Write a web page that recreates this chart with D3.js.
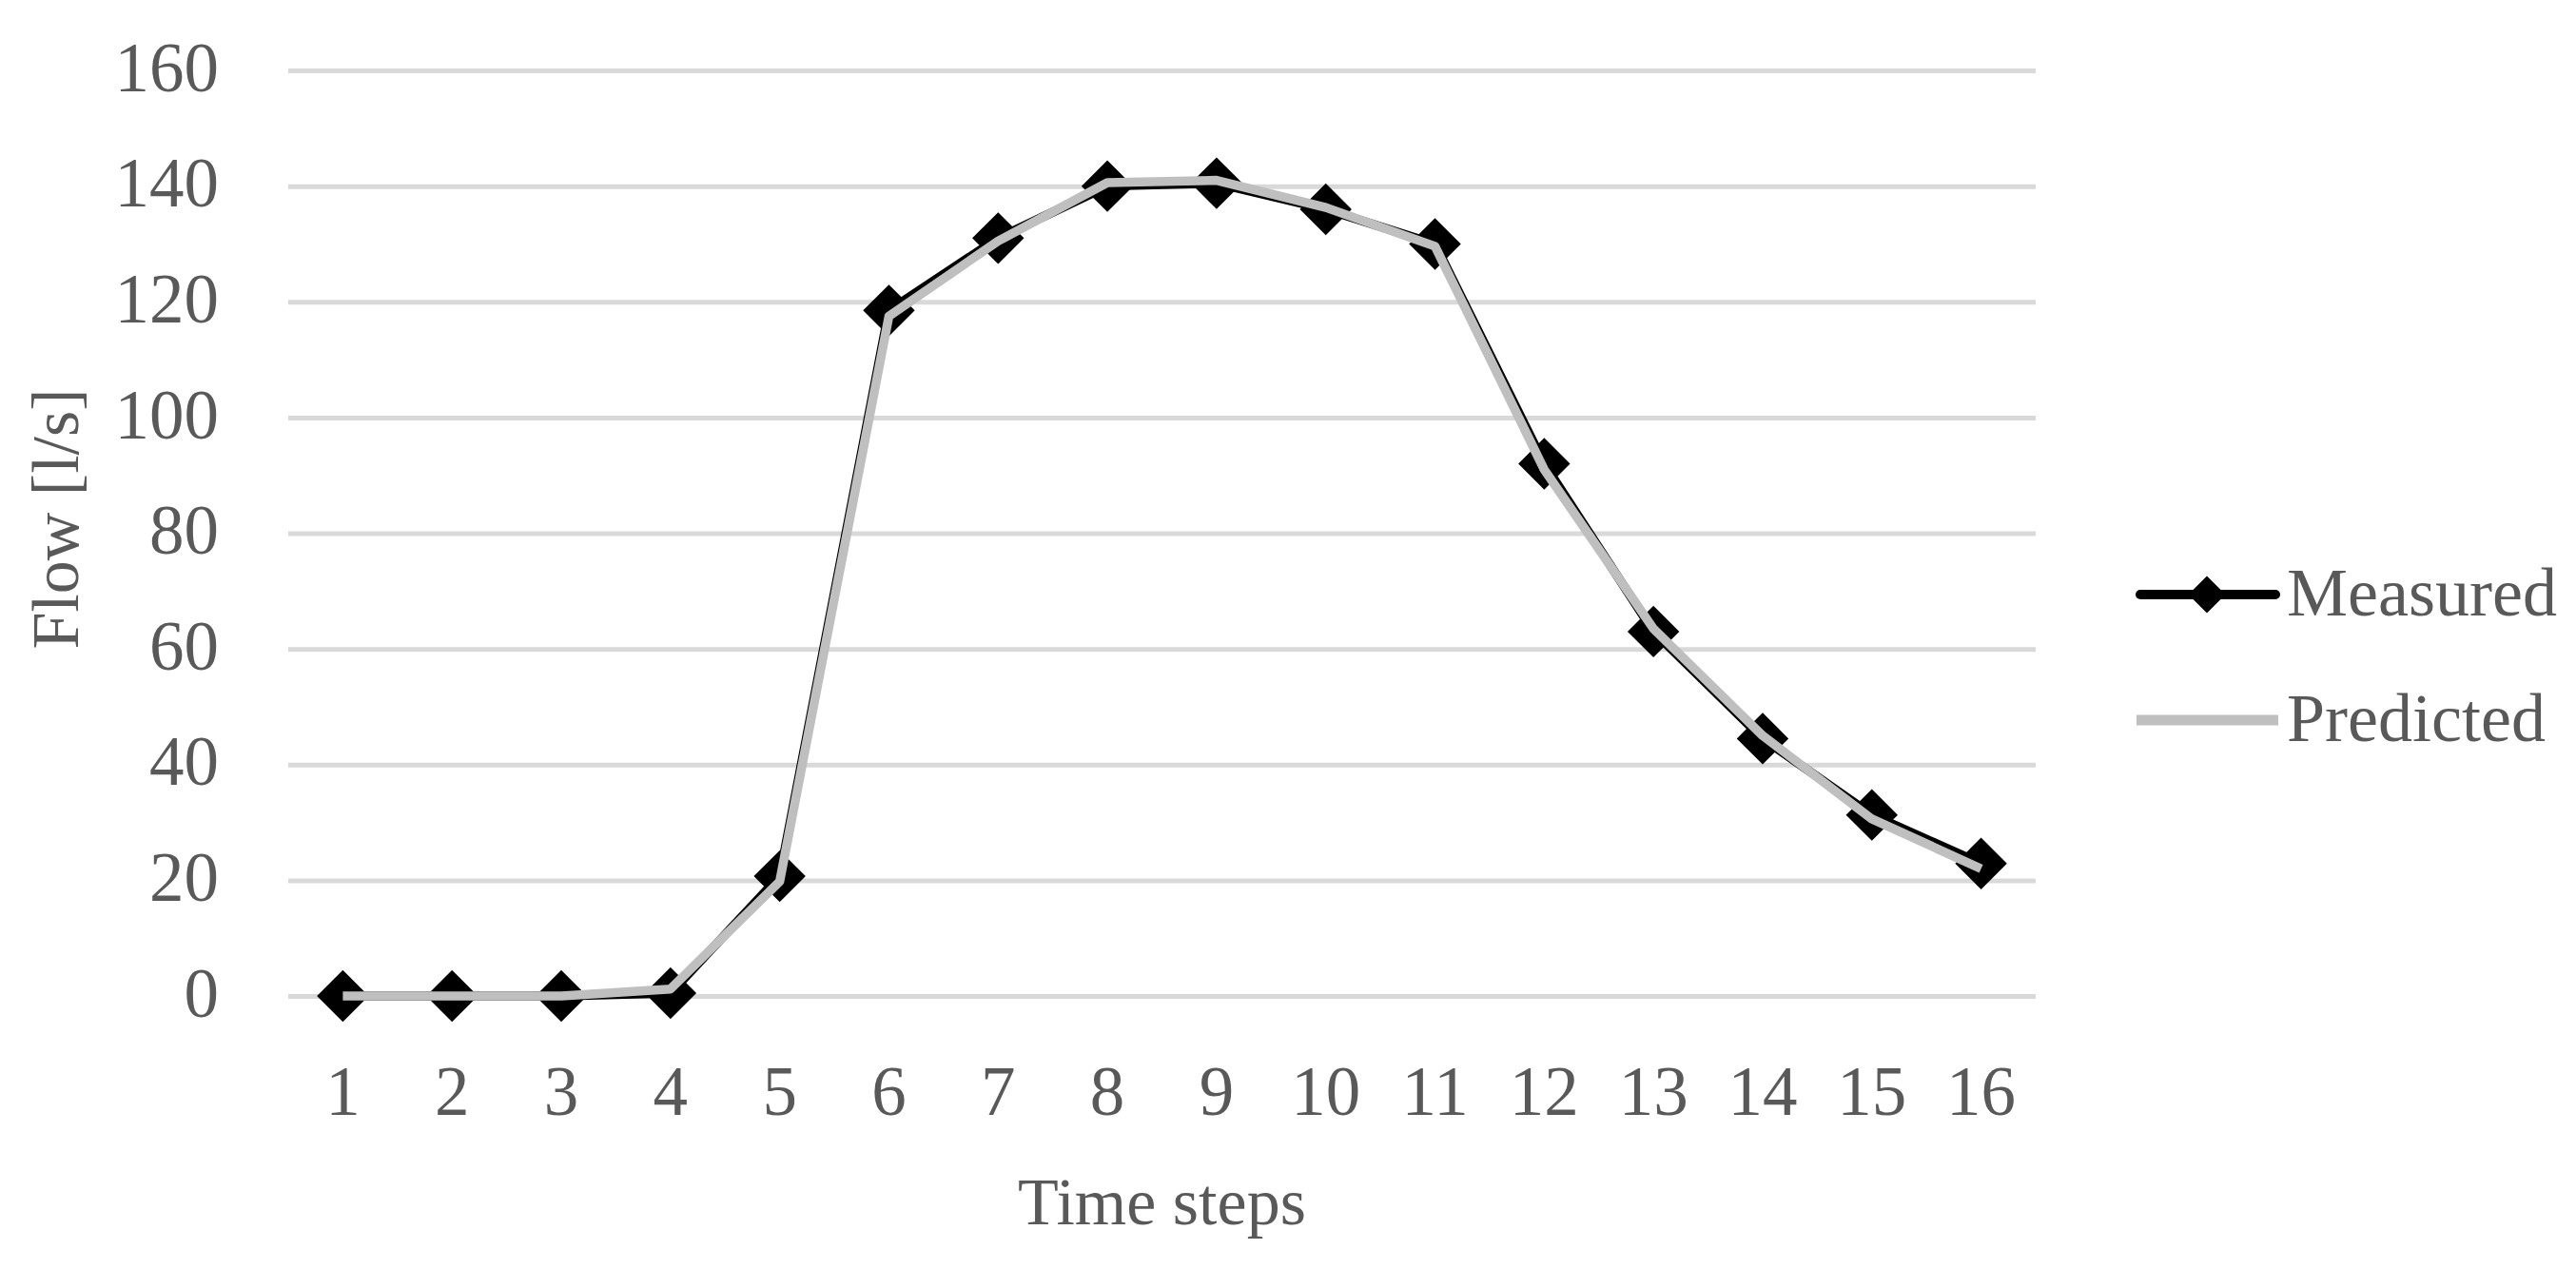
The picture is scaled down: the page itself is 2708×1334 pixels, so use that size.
<!DOCTYPE html>
<html>
<head>
<meta charset="utf-8">
<script src="https://cdn.jsdelivr.net/npm/d3@7"></script>
<style>
  html, body { margin: 0; padding: 0; background: #ffffff; }
  svg { display: block; }
</style>
</head>
<body>
<script>
const categories = ["1","2","3","4","5","6","7","8","9","10","11","12","13","14","15","16"];
const measured  = [0, 0, 0, 0.5, 20.7, 118.5, 131, 140, 140.5, 136, 130, 92, 63, 44.5, 31.3, 22.9];
const predicted = [0, 0, 0, 1.2, 19.8, 117.5, 130.5, 140.6, 141, 136.3, 129.6, 91, 63.5, 45, 30.6, 22];
const yTicks = [0, 20, 40, 60, 80, 100, 120, 140, 160];
const seriesNames = ["Measured", "Predicted"];
const xTitle = "Time steps";
const yTitle = "Flow [l/s]";

(function () {
const W = 2708, H = 1334;
const pLeft = 303, pRight = 2140, pTop = 74, pBottom = 1047;
const textColor = "#595959";
const font = "'Liberation Serif', 'Times New Roman', serif";

const svg = d3.select("body").append("svg")
  .attr("width", W).attr("height", H)
  .attr("viewBox", `0 0 ${W} ${H}`);

svg.append("rect").attr("width", W).attr("height", H).attr("fill", "#fff");

const x = d3.scaleBand().domain(categories).range([pLeft, pRight]).padding(0);
const y = d3.scaleLinear().domain([0, 160]).range([pBottom, pTop]);
const cx = d => x(d) + x.bandwidth() / 2;

// Y axis with gridlines
const yAxis = svg.append("g")
  .attr("transform", `translate(${pLeft},0)`)
  .call(d3.axisLeft(y).tickValues(yTicks).tickSize(-(pRight - pLeft)).tickPadding(73).tickFormat(d3.format("d")));
yAxis.select(".domain").remove();
yAxis.selectAll(".tick line")
  .attr("stroke", "#d9d9d9").attr("stroke-width", 5);
yAxis.selectAll(".tick text")
  .attr("fill", textColor)
  .attr("font-family", font)
  .attr("font-size", 73)
  .attr("dy", "0.29em");

// X axis labels
const xAxis = svg.append("g")
  .attr("transform", `translate(0,${pBottom})`)
  .call(d3.axisBottom(x).tickSize(0).tickPadding(0));
xAxis.select(".domain").remove();
xAxis.selectAll(".tick text")
  .attr("fill", textColor)
  .attr("font-family", font)
  .attr("font-size", 73)
  .attr("y", 125)
  .attr("dy", 0);

// Measured line + markers
const line = d3.line().x((d, i) => cx(categories[i])).y(d => y(d));

svg.append("path")
  .datum(measured)
  .attr("d", line)
  .attr("fill", "none")
  .attr("stroke", "#000")
  .attr("stroke-width", 9.5)
  .attr("stroke-linejoin", "round")
  .attr("stroke-linecap", "round");

const diamond = d3.symbol().type(d3.symbolSquare).size(1480);
svg.append("g").selectAll("path")
  .data(measured)
  .join("path")
  .attr("d", diamond)
  .attr("transform", (d, i) => `translate(${cx(categories[i])},${y(d)}) rotate(45)`)
  .attr("fill", "#000");

// Predicted line
svg.append("path")
  .datum(predicted)
  .attr("d", line)
  .attr("fill", "none")
  .attr("stroke", "#bfbfbf")
  .attr("stroke-width", 9.5)
  .attr("stroke-linejoin", "round")
  .attr("stroke-linecap", "butt");

// Axis titles
svg.append("text")
  .attr("x", (pLeft + pRight) / 2)
  .attr("y", 1287)
  .attr("text-anchor", "middle")
  .attr("fill", textColor)
  .attr("font-family", font)
  .attr("font-size", 70)
  .text(xTitle);

svg.append("text")
  .attr("transform", `translate(82,${(pTop + pBottom) / 2 - 15}) rotate(-90)`)
  .attr("text-anchor", "middle")
  .attr("fill", textColor)
  .attr("font-family", font)
  .attr("font-size", 70)
  .text(yTitle);

// Legend
const legendY = [625, 757];
const lg = svg.append("g");
lg.append("line")
  .attr("x1", 2250).attr("x2", 2392).attr("y1", legendY[0]).attr("y2", legendY[0])
  .attr("stroke", "#000").attr("stroke-width", 10).attr("stroke-linecap", "round");
lg.append("path")
  .attr("d", d3.symbol().type(d3.symbolSquare).size(760)())
  .attr("transform", `translate(2320,${legendY[0]}) rotate(45)`)
  .attr("fill", "#000");
lg.append("line")
  .attr("x1", 2246).attr("x2", 2395).attr("y1", legendY[1]).attr("y2", legendY[1])
  .attr("stroke", "#bfbfbf").attr("stroke-width", 11);
lg.selectAll("text.leg")
  .data(seriesNames)
  .join("text")
  .attr("class", "leg")
  .attr("x", 2404)
  .attr("y", (d, i) => legendY[i] + 22)
  .attr("fill", textColor)
  .attr("font-family", font)
  .attr("font-size", 72)
  .text(d => d);
})();
</script>
</body>
</html>
